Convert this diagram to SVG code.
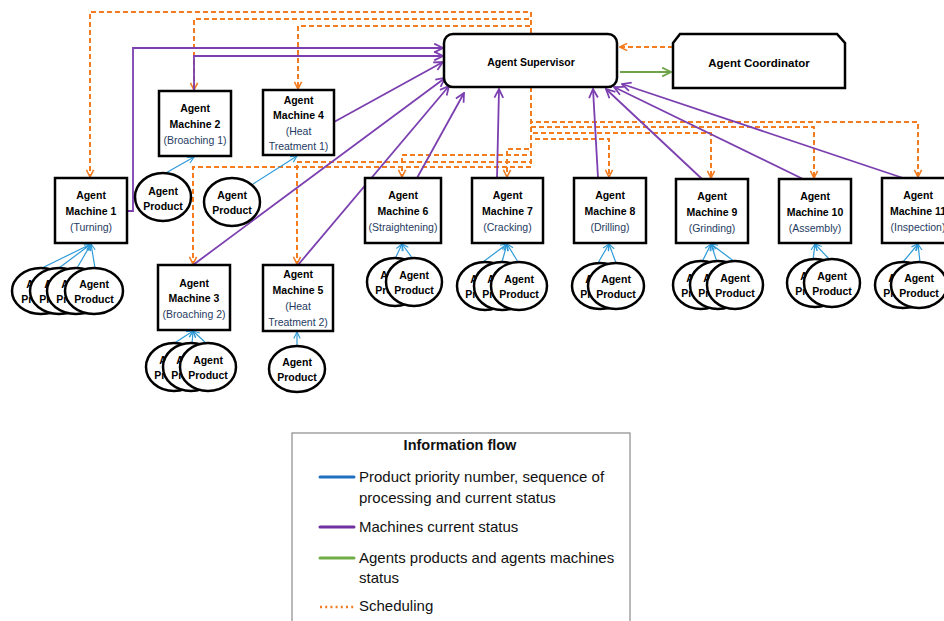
<svg xmlns="http://www.w3.org/2000/svg" width="944" height="621" viewBox="0 0 944 621">
<defs>
<style>
.box{fill:#fff;stroke:#000;stroke-width:2.5}
.ell{fill:#fff;stroke:#000;stroke-width:2.5}
.t{font-family:"Liberation Sans",Arial,sans-serif;font-size:10.5px;text-anchor:middle;fill:#000}
.b{font-weight:bold}
.p{fill:#1f3b63}
.sch{fill:none;stroke:#f47c20;stroke-width:2;stroke-dasharray:5,3;marker-end:url(#ao)}
.ms{fill:none;stroke:#7b3fb0;stroke-width:1.8;marker-end:url(#ap)}
.pp{fill:none;stroke:#2d9ad8;stroke-width:1.2;marker-end:url(#ab)}
.lg{font-family:"Liberation Sans",Arial,sans-serif;font-size:15px;fill:#111}
</style>
<marker id="ao" viewBox="0 0 10 10" refX="9" refY="5" markerWidth="9" markerHeight="9" markerUnits="userSpaceOnUse" orient="auto"><path d="M1,1 L9,5 L1,9" fill="none" stroke="#f47c20" stroke-width="1.8"/></marker>
<marker id="ap" viewBox="0 0 10 10" refX="9" refY="5" markerWidth="11" markerHeight="11" markerUnits="userSpaceOnUse" orient="auto"><path d="M1,1 L9,5 L1,9" fill="none" stroke="#7b3fb0" stroke-width="1.6"/></marker>
<marker id="ag" viewBox="0 0 10 10" refX="9" refY="5" markerWidth="11" markerHeight="11" markerUnits="userSpaceOnUse" orient="auto"><path d="M1,1 L9,5 L1,9" fill="none" stroke="#6ea34a" stroke-width="1.6"/></marker>
<marker id="ab" viewBox="0 0 10 10" refX="9" refY="5" markerWidth="8" markerHeight="8" markerUnits="userSpaceOnUse" orient="auto"><path d="M1,1 L9,5 L1,9" fill="none" stroke="#2d9ad8" stroke-width="1.4"/></marker>
</defs>
<rect width="944" height="621" fill="#fff"/>

<g id="connectors">
<path class="sch" d="M531,33 V12 H90 V177"/>
<path class="sch" d="M531,33 V19 H194 V90"/>
<path class="sch" d="M531,33 V26 H298 V89"/>
<path class="sch" d="M531,87 V167 H193 V264"/>
<path class="sch" d="M531,87 V162 H297 V264"/>
<path class="sch" d="M531,87 V155 H402 V177"/>
<path class="sch" d="M531,87 V149 H507 V177"/>
<path class="sch" d="M531,87 V139 H609 V177"/>
<path class="sch" d="M531,87 V133 H711 V178"/>
<path class="sch" d="M531,87 V127 H814 V178"/>
<path class="sch" d="M531,87 V122 H918 V177"/>
<path class="sch" d="M673,47 H620"/>
<path d="M620,72 H671" fill="none" stroke="#6ea34a" stroke-width="2" marker-end="url(#ag)"/>
<path class="ms" d="M128,211 H133 V48 H443"/>
<path class="ms" d="M194,91 V56 H443"/>
<path class="ms" d="M334,122 L443,62"/>
<path class="ms" d="M193,265 L445,78"/>
<path class="ms" d="M298,265 L449,86"/>
<path class="ms" d="M417,178 L464,93"/>
<path class="ms" d="M497,178 L499,89"/>
<path class="ms" d="M598,178 L593,89"/>
<path class="ms" d="M702,179 L606,89"/>
<path class="ms" d="M803,179 L614,87"/>
<path class="ms" d="M903,178 L622,84"/>
<path class="pp" d="M42,268 L91,244"/>
<path class="pp" d="M59,268 L91,244"/>
<path class="pp" d="M77,268 L91,244"/>
<path class="pp" d="M95,268 L91,244"/>
<path class="pp" d="M164,174 L194,157"/>
<path class="pp" d="M253,184 L297,156"/>
<path class="pp" d="M173,344 L193,331"/>
<path class="pp" d="M192,344 L193,331"/>
<path class="pp" d="M207,344 L193,331"/>
<path class="pp" d="M297,346 L297,332"/>
<path class="pp" d="M395,259 L402,244"/>
<path class="pp" d="M413,259 L402,244"/>
<path class="pp" d="M483,262 L507,244"/>
<path class="pp" d="M502,262 L507,244"/>
<path class="pp" d="M518,262 L507,244"/>
<path class="pp" d="M598,263 L609,244"/>
<path class="pp" d="M616,263 L609,244"/>
<path class="pp" d="M702,262 L711,244"/>
<path class="pp" d="M717,262 L711,244"/>
<path class="pp" d="M735,262 L711,244"/>
<path class="pp" d="M813,260 L815,244"/>
<path class="pp" d="M830,260 L815,244"/>
<path class="pp" d="M903,262 L918,244"/>
<path class="pp" d="M920,262 L918,244"/>
</g>

<g id="supervisor">
<rect class="box" x="444" y="34" width="173" height="53" rx="9"/>
<text class="t b" x="531" y="66">Agent Supervisor</text>
</g>
<g id="coordinator">
<path class="box" d="M673,43 L680,34 L837,34 L845,43 L845,88 L673,88 Z"/>
<text class="t b" x="759" y="67" style="font-size:11.5px">Agent Coordinator</text>
</g>

<g id="m1"><rect class="box" x="55" y="178" width="72" height="65"/>
<text class="t b" x="91" y="199">Agent</text><text class="t b" x="91" y="215">Machine 1</text><text class="t p" x="91" y="231">(Turning)</text></g>
<g id="m2"><rect class="box" x="159" y="91" width="72" height="65"/>
<text class="t b" x="195" y="112">Agent</text><text class="t b" x="195" y="128">Machine 2</text><text class="t p" x="195" y="144">(Broaching 1)</text></g>
<g id="m4"><rect class="box" x="263" y="90" width="71" height="65"/>
<text class="t b" x="298.5" y="104">Agent</text><text class="t b" x="298.5" y="119">Machine 4</text><text class="t p" x="298.5" y="135">(Heat</text><text class="t p" x="298.5" y="150">Treatment 1)</text></g>
<g id="m3"><rect class="box" x="158" y="265" width="72" height="65"/>
<text class="t b" x="194" y="287">Agent</text><text class="t b" x="194" y="302">Machine 3</text><text class="t p" x="194" y="318">(Broaching  2)</text></g>
<g id="m5"><rect class="box" x="263" y="265" width="70" height="66"/>
<text class="t b" x="298" y="278">Agent</text><text class="t b" x="298" y="294">Machine 5</text><text class="t p" x="298" y="310">(Heat</text><text class="t p" x="298" y="326">Treatment 2)</text></g>
<g id="m6"><rect class="box" x="365" y="178" width="76" height="65"/>
<text class="t b" x="403" y="199">Agent</text><text class="t b" x="403" y="215">Machine 6</text><text class="t p" x="403" y="231">(Straightening)</text></g>
<g id="m7"><rect class="box" x="472" y="178" width="71" height="65"/>
<text class="t b" x="507.5" y="199">Agent</text><text class="t b" x="507.5" y="215">Machine 7</text><text class="t p" x="507.5" y="231">(Cracking)</text></g>
<g id="m8"><rect class="box" x="574" y="178" width="72" height="65"/>
<text class="t b" x="610" y="199">Agent</text><text class="t b" x="610" y="215">Machine 8</text><text class="t p" x="610" y="231">(Drilling)</text></g>
<g id="m9"><rect class="box" x="676" y="179" width="72" height="64"/>
<text class="t b" x="712" y="200">Agent</text><text class="t b" x="712" y="216">Machine 9</text><text class="t p" x="712" y="232">(Grinding)</text></g>
<g id="m10"><rect class="box" x="779" y="179" width="72" height="64"/>
<text class="t b" x="815" y="200">Agent</text><text class="t b" x="815" y="216">Machine 10</text><text class="t p" x="815" y="232">(Assembly)</text></g>
<g id="m11"><rect class="box" x="882" y="178" width="72" height="65"/>
<text class="t b" x="918" y="199">Agent</text><text class="t b" x="918" y="215">Machine 11</text><text class="t p" x="918" y="231">(Inspection)</text></g>

<g id="p1">
<ellipse class="ell" cx="41" cy="291" rx="29" ry="23"/><text class="t b" x="41" y="288">Agent</text><text class="t b" x="41" y="303">Product</text>
<ellipse class="ell" cx="59" cy="291" rx="29" ry="23"/><text class="t b" x="59" y="288">Agent</text><text class="t b" x="59" y="303">Product</text>
<ellipse class="ell" cx="76" cy="291" rx="29" ry="23"/><text class="t b" x="76" y="288">Agent</text><text class="t b" x="76" y="303">Product</text>
<ellipse class="ell" cx="94" cy="291" rx="29" ry="23"/><text class="t b" x="94" y="288">Agent</text><text class="t b" x="94" y="303">Product</text>
</g>
<g id="p2"><ellipse class="ell" cx="163" cy="197" rx="28" ry="24"/><text class="t b" x="163" y="195">Agent</text><text class="t b" x="163" y="210">Product</text></g>
<g id="p4"><ellipse class="ell" cx="232" cy="202" rx="28" ry="24"/><text class="t b" x="232" y="199">Agent</text><text class="t b" x="232" y="214">Product</text></g>
<g id="p3">
<ellipse class="ell" cx="174" cy="367" rx="28" ry="24"/><text class="t b" x="174" y="364">Agent</text><text class="t b" x="174" y="379">Product</text>
<ellipse class="ell" cx="191" cy="367" rx="28" ry="24"/><text class="t b" x="191" y="364">Agent</text><text class="t b" x="191" y="379">Product</text>
<ellipse class="ell" cx="208" cy="367" rx="28" ry="24"/><text class="t b" x="208" y="364">Agent</text><text class="t b" x="208" y="379">Product</text>
</g>
<g id="p5"><ellipse class="ell" cx="297" cy="369" rx="28" ry="23"/><text class="t b" x="297" y="366">Agent</text><text class="t b" x="297" y="381">Product</text></g>
<g id="p6">
<ellipse class="ell" cx="395" cy="282" rx="28" ry="24"/><text class="t b" x="395" y="279">Agent</text><text class="t b" x="395" y="294">Product</text>
<ellipse class="ell" cx="414" cy="282" rx="28" ry="24"/><text class="t b" x="414" y="279">Agent</text><text class="t b" x="414" y="294">Product</text>
</g>
<g id="p7">
<ellipse class="ell" cx="485" cy="286" rx="28" ry="24"/><text class="t b" x="485" y="283">Agent</text><text class="t b" x="485" y="298">Product</text>
<ellipse class="ell" cx="502" cy="286" rx="28" ry="24"/><text class="t b" x="502" y="283">Agent</text><text class="t b" x="502" y="298">Product</text>
<ellipse class="ell" cx="519" cy="286" rx="28" ry="24"/><text class="t b" x="519" y="283">Agent</text><text class="t b" x="519" y="298">Product</text>
</g>
<g id="p8">
<ellipse class="ell" cx="600" cy="286" rx="28" ry="23"/><text class="t b" x="600" y="283">Agent</text><text class="t b" x="600" y="298">Product</text>
<ellipse class="ell" cx="616" cy="286" rx="28" ry="23"/><text class="t b" x="616" y="283">Agent</text><text class="t b" x="616" y="298">Product</text>
</g>
<g id="p9">
<ellipse class="ell" cx="701" cy="285" rx="28" ry="24"/><text class="t b" x="701" y="282">Agent</text><text class="t b" x="701" y="297">Product</text>
<ellipse class="ell" cx="718" cy="285" rx="28" ry="24"/><text class="t b" x="718" y="282">Agent</text><text class="t b" x="718" y="297">Product</text>
<ellipse class="ell" cx="735" cy="285" rx="28" ry="24"/><text class="t b" x="735" y="282">Agent</text><text class="t b" x="735" y="297">Product</text>
</g>
<g id="p10">
<ellipse class="ell" cx="815" cy="283" rx="28" ry="24"/><text class="t b" x="815" y="280">Agent</text><text class="t b" x="815" y="295">Product</text>
<ellipse class="ell" cx="832" cy="283" rx="28" ry="24"/><text class="t b" x="832" y="280">Agent</text><text class="t b" x="832" y="295">Product</text>
</g>
<g id="p11">
<ellipse class="ell" cx="903" cy="285" rx="28" ry="23"/><text class="t b" x="903" y="282">Agent</text><text class="t b" x="903" y="297">Product</text>
<ellipse class="ell" cx="919" cy="285" rx="28" ry="23"/><text class="t b" x="919" y="282">Agent</text><text class="t b" x="919" y="297">Product</text>
</g>

<g id="legend">
<rect x="292" y="433" width="338" height="200" fill="#fff" stroke="#8a8a8a" stroke-width="1.2"/>
<text class="lg" x="460" y="450" text-anchor="middle" style="font-weight:bold;font-size:14.5px">Information flow</text>
<line x1="320" y1="477" x2="354" y2="477" stroke="#1e6fc0" stroke-width="3" stroke-linecap="round"/>
<text class="lg" x="359" y="482">Product priority number, sequence of</text>
<text class="lg" x="359" y="503">processing and current status</text>
<line x1="320" y1="527" x2="354" y2="527" stroke="#7030a0" stroke-width="3" stroke-linecap="round"/>
<text class="lg" x="359" y="532">Machines current status</text>
<line x1="320" y1="558" x2="354" y2="558" stroke="#70ad47" stroke-width="3" stroke-linecap="round"/>
<text class="lg" x="359" y="563">Agents products and agents machines</text>
<text class="lg" x="359" y="583">status</text>
<line x1="320" y1="607" x2="354" y2="607" stroke="#f47c20" stroke-width="2.5" stroke-dasharray="2,3.2"/>
<text class="lg" x="359" y="611">Scheduling</text>
</g>
</svg>
